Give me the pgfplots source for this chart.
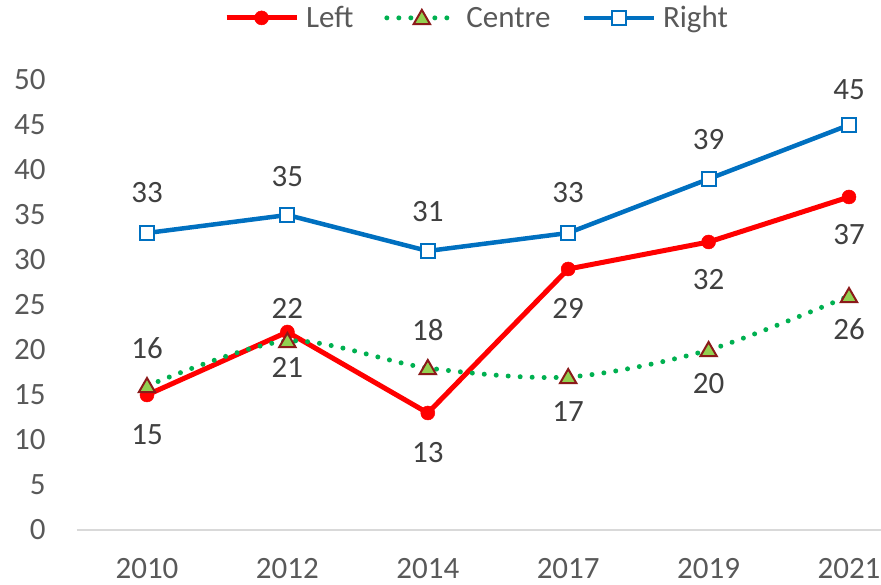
\documentclass[border=0pt]{standalone}
\usepackage{fontspec}
\setmainfont{Carlito}
\usepackage{pgfplots}
\usepackage{pgfplotstable}
\pgfplotsset{compat=1.18}
\definecolor{cred}{HTML}{FF0000}
\definecolor{cblue}{HTML}{0070C0}
\definecolor{cgreen}{HTML}{00B050}
\definecolor{tfill}{HTML}{92D050}
\definecolor{tborder}{HTML}{8B1A1A}
\definecolor{tickc}{HTML}{595959}
\definecolor{labc}{HTML}{404040}
\definecolor{axl}{HTML}{D9D9D9}

\pgfplotstableread{
x left lpos centre cpos right rpos
0 15 -40 16  39 33 40
1 22  24 21 -25 35 38
2 13 -40 18  39 31 39
3 29 -39 17 -33 33 40
4 32 -38 20 -32 39 39
5 37 -38 26 -32 45 35
}\data

\begin{document}
\begin{tikzpicture}[x=1pt,y=1pt,font=\fontsize{31}{37}\selectfont]
\path[use as bounding box] (0,0) rectangle (881,585);
\begin{axis}[
  at={(76.8pt,55pt)}, anchor=south west,
  scale only axis, width=804.2pt, height=450pt,
  xmin=-0.5, xmax=5.228, ymin=0, ymax=50,
  ytick={0,5,...,50},
  xtick={0,1,2,3,4,5},
  xticklabels={2010,2012,2014,2017,2019,2021},
  /pgf/number format/assume math mode=true,
  axis lines*=left,
  y axis line style={draw=none},
  x axis line style={draw=axl, line width=1.5pt},
  major tick length=0pt,
  tick style={draw=none},
  yticklabel style={anchor=east, inner sep=0pt, xshift=-31pt, text=tickc},
  xticklabel style={anchor=center, inner sep=0pt, yshift=-39pt, text=tickc},
  clip=false,
  legend style={at={(0.4964,1.138)}, anchor=center, draw=none, fill=none,
    legend columns=-1, text=tickc, nodes={inner sep=0pt},
    /tikz/every odd column/.style={column sep=7pt},
    /tikz/every even column/.style={column sep=31pt}},
  legend image code/.code={\draw[mark repeat=2, mark phase=2] plot coordinates {(0pt,0pt) (35pt,0pt) (70pt,0pt)};},
  nodes near coords,
  nodes near coords style={anchor=center, inner sep=0pt, text=labc, yshift=\pos*1pt},
]
\addplot[cred, line width=5pt, mark=*, mark size=7pt, mark options={fill=cred, draw=cred, line width=0.5pt},
  visualization depends on={\thisrow{lpos} \as \pos}]
  table[x=x, y=left, meta=left] {\data};
\addlegendentry{Left}
\addplot[cgreen, line width=5pt, line cap=round, dash pattern=on 0pt off 12pt, smooth,
  mark=triangle*, mark size=9.5pt, mark options={fill=tfill, draw=tborder, line width=2pt, solid, yshift=-1.5pt},
  visualization depends on={\thisrow{cpos} \as \pos}]
  table[x=x, y=centre, meta=centre] {\data};
\addlegendentry{Centre}
\addplot[cblue, line width=4.5pt, mark=square*, mark size=7pt, mark options={fill=white, draw=cblue, line width=2pt},
  visualization depends on={\thisrow{rpos} \as \pos}]
  table[x=x, y=right, meta=right] {\data};
\addlegendentry{Right}
\end{axis}
\end{tikzpicture}
\end{document}
